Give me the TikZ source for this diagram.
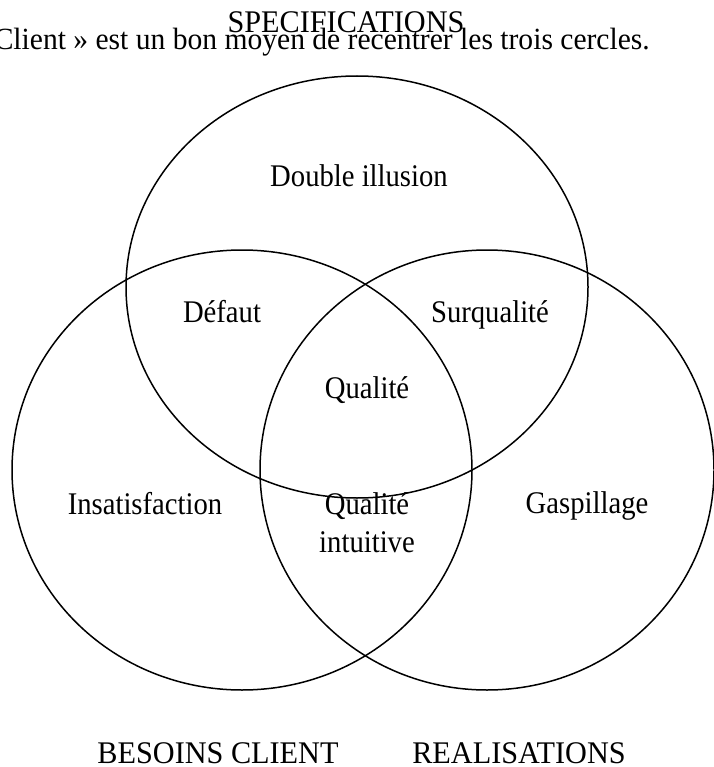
\documentclass[tikz,border=0pt]{standalone}
\usepackage{fontspec}
\setmainfont{Liberation Serif}
\newfontfamily\zonefont[FakeStretch=0.91]{Liberation Serif}
\newfontfamily\titrefont[FakeStretch=0.96]{Liberation Serif}
\usepackage{tikz}
\usetikzlibrary{shapes.geometric}

\begin{document}
\begin{tikzpicture}[
  x=1pt, y=-1pt,
  cercle/.style={
    draw=black, line width=1.5pt, ellipse, inner sep=0pt
  },
  zone/.style={font=\zonefont\fontsize{31.5}{38}\selectfont, inner sep=0pt,
               anchor=base, align=center},
  titre/.style={font=\titrefont\fontsize{31.5}{36}\selectfont, inner sep=0pt,
                anchor=base}
]
  \useasboundingbox (0,0) rectangle (713,767);

  % --- Cercles ---
  \node[cercle, minimum width=462pt, minimum height=422pt] (spec) at (357,287) {};
  \node[cercle, minimum width=460pt, minimum height=440pt] (besoins) at (242,470) {};
  \node[cercle, minimum width=454pt, minimum height=440pt] (real) at (487,470) {};

  % --- Zones ---
  \node[zone] (illusion) at (359,187) {Double illusion};
  \node[zone] (defaut) at (222,322) {Défaut};
  \node[zone] (surq) at (490,322) {Surqualité};
  \node[zone] (qual) at (367,398) {Qualité};
  \node[zone] (insat) at (145,514) {Insatisfaction};
  \node[zone] (gasp) at (587,513) {Gaspillage};
  \node[zone] (intuit) at (367,552) {Qualité\\intuitive};

  % --- Titres ---
  \node[titre, anchor=base east, font=\titrefont\fontsize{30.8}{36}\selectfont]
    (phrase) at (650,50)
    {Client » est un bon moyen de recentrer les trois cercles.};
  \node[titre] (tspec) at (346,33) {SPECIFICATIONS};
  \node[titre] (tbesoins) at (218,763) {BESOINS CLIENT};
  \node[titre] (treal) at (519,763) {REALISATIONS};

\end{tikzpicture}
\end{document}
